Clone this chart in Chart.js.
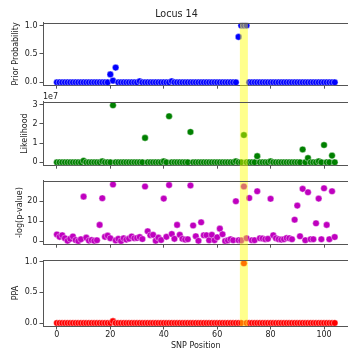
<!DOCTYPE html>
<html lang="en">
<head>
  <meta charset="UTF-8" />
  <script src="https://cdn.jsdelivr.net/npm/chart.js"></script>
  <title>Locus 14</title>
  <style>
    body {
      margin: 0;
      width: 348px;
      height: 353px;
      overflow: hidden;
      background: #fff;
      position: relative;
    }
    canvas {
      position: absolute;
      left: 0;
    }
  </style>
</head>
<body>
  <canvas id="prior" width="353" height="92" style="top:0px"></canvas>
  <canvas id="likelihood" width="353" height="80" style="top:92px"></canvas>
  <canvas id="pvalue" width="353" height="79" style="top:172px"></canvas>
  <canvas id="ppa" width="353" height="102" style="top:251px"></canvas>

  <script>
    // SNP positions are 0..104 (array index)
    const snpTicks = [0, 20, 40, 60, 80, 100];
    const causalSnp = 70;

    const priorProb = [
      0, 0, 0, 0, 0, 0, 0, 0, 0, 0, 0, 0, 0, 0, 0,
      0, 0, 0, 0, 0, 0.14, 0.03, 0.26, 0, 0, 0, 0, 0, 0, 0,
      0, 0.02, 0, 0, 0, 0, 0, 0, 0, 0, 0, 0, 0, 0.02, 0,
      0, 0, 0, 0, 0, 0, 0, 0, 0, 0, 0, 0, 0, 0, 0,
      0, 0, 0, 0, 0, 0, 0, 0, 0.8, 1, 1, 1, 0, 0, 0,
      0, 0, 0, 0, 0, 0, 0, 0, 0, 0, 0, 0, 0, 0, 0,
      0, 0, 0, 0, 0, 0, 0, 0, 0, 0, 0, 0, 0, 0, 0
    ];

    const likelihood = [
      0, 0, 0, 0, 0, 0, 0, 0, 0, 0, 0.08e7, 0, 0, 0, 0,
      0, 0, 0.05e7, 0, 0, 0, 2.97e7, 0, 0, 0, 0, 0, 0, 0, 0,
      0, 0, 0, 1.27e7, 0, 0, 0, 0, 0, 0, 0.05e7, 0, 2.4e7, 0, 0,
      0, 0, 0, 0, 0, 1.58e7, 0, 0, 0, 0, 0, 0, 0, 0, 0,
      0, 0, 0, 0, 0, 0, 0, 0.05e7, 0, 0, 1.42e7, 0, 0, 0, 0,
      0.32e7, 0, 0, 0, 0, 0.05e7, 0, 0, 0, 0, 0, 0, 0, 0, 0,
      0, 0, 0.67e7, 0, 0.22e7, 0, 0, 0, 0.05e7, 0, 0.9e7, 0, 0, 0.35e7, 0
    ];

    const negLogP = [
      3.4, 2.2, 3.0, 1.5, 0.2, 1.2, 2.4, 0.6, 0.1, 1.0, 22.4, 1.8, 0.3, 0.6, 0.2,
      0.5, 8.2, 21.6, 2.2, 2.8, 1.5, 28.5, 0.4, 1.2, 0.1, 1.5, 0.8, 1.3, 2.4, 1.5,
      1.6, 2.1, 1.1, 27.5, 5.0, 3.0, 3.2, 0.2, 1.8, 0.6, 21.4, 2.2, 28.2, 3.6, 1.2,
      8.2, 3.2, 1.2, 0.8, 1.0, 28.0, 7.9, 2.5, 0.2, 9.5, 3.0, 3.0, 0.5, 3.2, 0.5,
      2.0, 6.3, 3.5, 0.1, 0.4, 1.0, 0.5, 20.1, 0.5, 0.4, 27.5, 1.5, 21.7, 0.5, 0.5,
      25.1, 1.5, 1.4, 1.0, 1.2, 21.3, 3.0, 1.5, 1.0, 0.8, 1.0, 1.6, 1.5, 1.0, 10.8,
      17.9, 2.5, 26.3, 0.5, 24.6, 1.0, 1.0, 9.0, 21.4, 1.0, 26.6, 8.2, 1.0, 25.1, 2.1
    ];

    const ppa = [
      0, 0, 0, 0, 0, 0, 0, 0, 0, 0, 0, 0, 0, 0, 0,
      0, 0, 0, 0, 0, 0, 0.03, 0, 0, 0, 0, 0, 0, 0, 0,
      0, 0, 0, 0, 0, 0, 0, 0, 0, 0, 0, 0, 0, 0, 0,
      0, 0, 0, 0, 0, 0, 0, 0, 0, 0, 0, 0, 0, 0, 0,
      0, 0, 0, 0, 0, 0, 0, 0, 0, 0, 0.975, 0, 0, 0, 0,
      0, 0, 0, 0, 0, 0, 0, 0, 0, 0, 0, 0, 0, 0, 0,
      0, 0, 0, 0, 0, 0, 0, 0, 0, 0, 0, 0, 0, 0, 0
    ];

    const fontFamily = "'DejaVu Sans', sans-serif";
    const textColor = '#222';
    const axisColor = '#555';

    // top spine, yellow band over the causal SNP, optional offset text
    const framePlugin = {
      id: 'frame',
      afterDraw(chart, args, opts) {
        const { ctx, chartArea, scales } = chart;
        const x0 = scales.x.getPixelForValue(causalSnp - 1.5);
        const x1 = scales.x.getPixelForValue(causalSnp + 1.5);
        const top = opts.bandFromArea ? chartArea.top : 0;
        const bottom = opts.bandToArea ? chartArea.bottom : chart.height;
        ctx.save();
        ctx.fillStyle = 'rgba(255,255,0,0.45)';
        ctx.fillRect(x0, top, x1 - x0, bottom - top);
        ctx.strokeStyle = axisColor;
        ctx.lineWidth = 1;
        ctx.beginPath();
        ctx.moveTo(chartArea.left, Math.round(chartArea.top) + 0.5);
        ctx.lineTo(chartArea.right, Math.round(chartArea.top) + 0.5);
        ctx.stroke();
        if (opts.offsetText) {
          ctx.fillStyle = textColor;
          ctx.font = '8px ' + fontFamily;
          ctx.textBaseline = 'alphabetic';
          ctx.fillText(opts.offsetText, chartArea.left, chartArea.top - 2.5);
        }
        ctx.restore();
      }
    };

    function makePanel(id, values, color, yLabel, yRange, yTicks, fmt, cfg) {
      return new Chart(document.getElementById(id), {
        type: 'scatter',
        data: {
          datasets: [{
            data: values.map((v, i) => ({ x: i, y: v })),
            backgroundColor: color,
            borderColor: '#fff',
            borderWidth: 0.4,
            pointRadius: 3.3
          }]
        },
        options: {
          responsive: false,
          animation: false,
          devicePixelRatio: 1,
          events: [],
          layout: { padding: { top: cfg.padTop, left: 0, right: 0, bottom: 0 } },
          plugins: {
            legend: { display: false },
            tooltip: { enabled: false },
            title: cfg.title ? {
              display: true,
              text: cfg.title,
              color: textColor,
              font: { family: fontFamily, size: 9.6, weight: 'normal' },
              padding: { top: 9, bottom: 2.2 }
            } : { display: false },
            frame: {
              bandFromArea: cfg.bandFromArea,
              bandToArea: cfg.bandToArea,
              offsetText: cfg.offsetText
            }
          },
          scales: {
            x: {
              type: 'linear',
              min: -5.2,
              max: 109.2,
              afterBuildTicks: s => { s.ticks = snpTicks.map(v => ({ value: v })); },
              afterFit: s => { s.height = cfg.xHeight; },
              grid: { drawOnChartArea: false, tickLength: 3.5, color: axisColor },
              border: { color: axisColor },
              ticks: {
                display: cfg.showX,
                autoSkip: false,
                maxRotation: 0,
                padding: 1,
                color: textColor,
                font: { family: fontFamily, size: 8 }
              },
              title: {
                display: cfg.showX,
                text: 'SNP Position',
                color: textColor,
                font: { family: fontFamily, size: 8 },
                padding: { top: 0, bottom: 2.2 }
              }
            },
            y: {
              min: yRange[0],
              max: yRange[1],
              afterBuildTicks: s => { s.ticks = yTicks.map(v => ({ value: v })); },
              afterFit: s => { s.width = 43; },
              grid: { drawOnChartArea: false, tickLength: 3.5, color: axisColor },
              border: { color: axisColor },
              ticks: {
                padding: 2,
                color: textColor,
                font: { family: fontFamily, size: 8 },
                callback: fmt
              },
              title: {
                display: true,
                text: yLabel,
                color: textColor,
                font: { family: fontFamily, size: 8 },
                padding: { top: cfg.labelPad, bottom: 0 }
              }
            }
          }
        },
        plugins: [framePlugin]
      });
    }

    const oneDecimal = v => v.toFixed(1);

    makePanel('prior', priorProb, '#0000ff', 'Prior Probability', [-0.05, 1.05], [0, 0.5, 1], oneDecimal,
      { title: 'Locus 14', padTop: 0, xHeight: 3.3, showX: false, labelPad: 11, bandFromArea: true, bandToArea: false });

    makePanel('likelihood', likelihood, '#008000', 'Likelihood', [-0.15e7, 3.15e7], [0, 1e7, 2e7, 3e7], v => v / 1e7,
      { padTop: 9.8, xHeight: 4.2, showX: false, labelPad: 20, bandFromArea: false, bandToArea: false, offsetText: '1e7' });

    makePanel('pvalue', negLogP, '#bf00bf', '-log(p-value)', [-1.5, 30.3], [0, 10, 20], v => v,
      { padTop: 8.9, xHeight: 4.1, showX: false, labelPad: 15, bandFromArea: false, bandToArea: false });

    makePanel('ppa', ppa, '#ff0000', 'PPA', [-0.049, 1.029], [0, 0.5, 1], oneDecimal,
      { padTop: 9, xHeight: 27, showX: true, labelPad: 11, bandFromArea: false, bandToArea: true });
  </script>
</body>
</html>
